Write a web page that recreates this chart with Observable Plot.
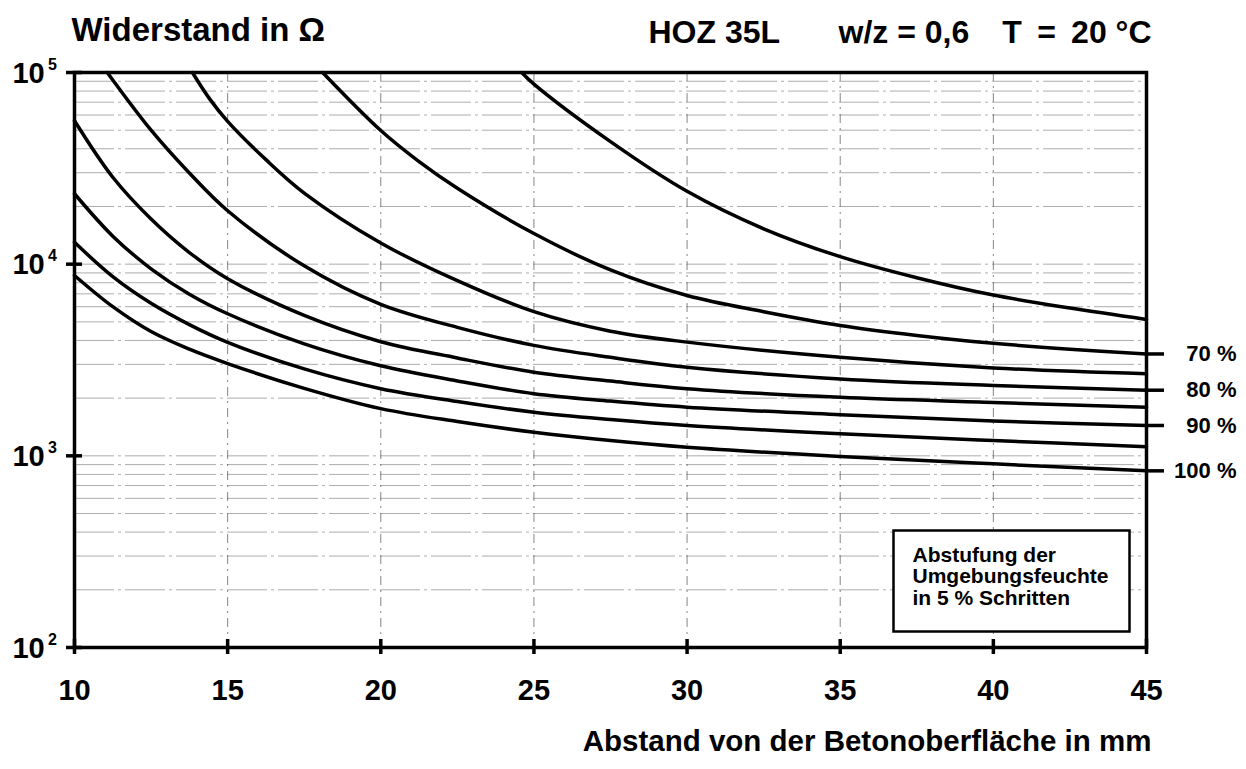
<!DOCTYPE html>
<html><head><meta charset="utf-8">
<script src="https://cdn.jsdelivr.net/npm/d3@7"></script>
<script src="https://cdn.jsdelivr.net/npm/@observablehq/plot@0.6"></script>
<style>body{margin:0;background:#fff} #chart svg{display:block}</style>
</head><body><div id="chart"></div>
<script>
// Axis ticks and grid
const xTicks = [10, 15, 20, 25, 30, 35, 40, 45];
const xGrid = [15, 20, 25, 30, 35, 40];
const yTicks = [100, 1000, 10000, 100000];
const yExponents = ["2", "3", "4", "5"];
const yMinorGrid = [200, 300, 400, 500, 600, 700, 800, 900,
  2000, 3000, 4000, 5000, 6000, 7000, 8000, 9000,
  20000, 30000, 40000, 50000, 60000, 70000, 80000, 90000];

// Curves: ambient humidity in 5 % steps (distance in mm, resistance in Ohm)
const rh65Dist = [24.6, 25, 27.5, 30, 32.5, 35, 37.5, 40, 42.5, 45];
const rh65Res  = [100000, 87000, 43600, 24000, 15300, 10950, 8500, 6900, 5900, 5150];
const rh70Dist = [18.1, 20, 21.25, 22.5, 25, 27.5, 30, 32.5, 35, 37.5, 40, 42.5, 45];
const rh70Res  = [100000, 49800, 34300, 24900, 14450, 9330, 6860, 5650, 4790, 4250, 3870, 3600, 3400];
const rh75Dist = [13.85, 14.4, 15, 16.25, 17.5, 20, 22.5, 25, 27.5, 30, 35, 40, 45];
const rh75Res  = [100000, 73300, 55600, 35100, 23500, 12900, 8200, 5650, 4470, 3920, 3265, 2875, 2680];
const rh80Dist = [11.07, 12.5, 13.75, 15, 17.5, 20, 22.5, 25, 27.5, 30, 35, 40, 45];
const rh80Res  = [100000, 50000, 29900, 19000, 9800, 6170, 4680, 3770, 3265, 2900, 2520, 2330, 2200];
const fullDist = [10, 11.25, 12.5, 13.75, 15, 17.5, 20, 22.5, 25, 27.5, 30, 35, 40, 45];
const rh85Res  = [56000, 28400, 17200, 11500, 8400, 5400, 3940, 3240, 2730, 2455, 2240, 2020, 1900, 1790];
const rh90Res  = [23300, 14000, 9460, 6970, 5510, 3840, 2950, 2460, 2110, 1930, 1795, 1640, 1520, 1440];
const rh95Res  = [13000, 8610, 6250, 4840, 3910, 2840, 2240, 1920, 1690, 1548, 1440, 1303, 1202, 1115];
const rh100Res = [8730, 6000, 4450, 3600, 3030, 2250, 1763, 1510, 1328, 1202, 1109, 993, 908, 835];

const labeledCurves = ["70 %", "80 %", "90 %", "100 %"];

const series = [
  {label: "65 %", dist: rh65Dist, res: rh65Res},
  {label: "70 %", dist: rh70Dist, res: rh70Res},
  {label: "75 %", dist: rh75Dist, res: rh75Res},
  {label: "80 %", dist: rh80Dist, res: rh80Res},
  {label: "85 %", dist: fullDist, res: rh85Res},
  {label: "90 %", dist: fullDist, res: rh90Res},
  {label: "95 %", dist: fullDist, res: rh95Res},
  {label: "100 %", dist: fullDist, res: rh100Res}
];
const rows = series.flatMap(s => s.dist.map((d, i) => ({rh: s.label, dist: d, res: s.res[i]})));
const ends = series.filter(s => labeledCurves.includes(s.label))
  .map(s => ({label: s.label, res: s.res[s.res.length - 1]}));

const FONT = "Liberation Sans, Arial, Helvetica, sans-serif";

const chart = Plot.plot({
  width: 1246,
  height: 769,
  marginLeft: 74,
  marginRight: 100,
  marginTop: 72,
  marginBottom: 122,
  style: {fontFamily: FONT, overflow: "visible", background: "white"},
  x: {domain: [10, 45], axis: null},
  y: {type: "log", domain: [100, 100000], axis: null},
  marks: [
    Plot.ruleY(yMinorGrid, {stroke: "#666", strokeWidth: 0.9, strokeOpacity: 0.6, strokeDasharray: "40,4,3,4"}),
    Plot.ruleY([1000, 10000], {stroke: "#666", strokeWidth: 0.9, strokeOpacity: 0.6, strokeDasharray: "40,4,3,4"}),
    Plot.ruleX(xGrid, {stroke: "#555", strokeWidth: 0.9, strokeOpacity: 0.8, strokeDasharray: "9,5,2,5"}),
    // legend box
    Plot.frame({fill: "white", stroke: "black", strokeWidth: 2.5,
      insetLeft: 819, insetTop: 458, insetRight: 17, insetBottom: 16}),
    Plot.text(["Abstufung der\nUmgebungsfeuchte\nin 5 % Schritten"], {
      frameAnchor: "bottom-right", dx: -234, dy: -101, textAnchor: "start", lineAnchor: "top",
      lineHeight: 1.02, fontSize: 21, fontWeight: "bold", fill: "black"}),
    // curves
    Plot.line(rows, {x: "dist", y: "res", z: "rh", stroke: "black", strokeWidth: 3.5, curve: "catmull-rom"}),
    // frame / axes
    Plot.frame({stroke: "black", strokeWidth: 3.5}),
    Plot.ruleX(xTicks, {stroke: "black", strokeWidth: 3.5, insetTop: 567, insetBottom: -7}),
    Plot.ruleY(yTicks, {stroke: "black", strokeWidth: 3.5, insetLeft: -8, insetRight: 1064}),
    // end leaders and labels
    Plot.ruleY(ends, {y: "res", stroke: "black", strokeWidth: 3.5, insetLeft: 1072, insetRight: -18}),
    Plot.text(ends, {y: "res", text: "label", frameAnchor: "right", dx: 90, textAnchor: "end", lineAnchor: "middle",
      fontSize: 22, fontWeight: "bold", fill: "black"}),
    // tick labels
    Plot.text(xTicks, {x: d => d, y: 100, text: d => String(d), dy: 43, fontSize: 29, fontWeight: "bold", fill: "black"}),
    Plot.text(yTicks, {x: 10, y: d => d, text: () => "10", dx: -46, dy: 1, fontSize: 29, fontWeight: "bold", fill: "black"}),
    Plot.text(yTicks, {x: 10, y: d => d, text: (d, i) => yExponents[i], dx: -22, dy: -8, fontSize: 16, fontWeight: "bold", fill: "black"}),
    // titles
    Plot.text(["Widerstand in \u03A9"], {frameAnchor: "top-left", dx: -3, dy: -42, textAnchor: "start", lineAnchor: "middle",
      fontSize: 33, fontWeight: "bold", fill: "black"}),
    Plot.text(["HOZ 35L"], {frameAnchor: "top-right", dx: -498, dy: -40, textAnchor: "start", lineAnchor: "middle",
      fontSize: 32, fontWeight: "bold", fill: "black"}),
    Plot.text(["w/z = 0,6"], {frameAnchor: "top-right", dx: -308, dy: -40, textAnchor: "start", lineAnchor: "middle",
      fontSize: 32, fontWeight: "bold", fill: "black"}),
    Plot.text(["T\u2009 =\u2009 20 \u00B0C"], {frameAnchor: "top-right", dx: 5, dy: -40, textAnchor: "end", lineAnchor: "middle",
      fontSize: 32, fontWeight: "bold", fill: "black"}),
    Plot.text(["Abstand von der Betonoberfl\u00E4che in mm"], {frameAnchor: "bottom-right", dx: 5, dy: 94,
      textAnchor: "end", lineAnchor: "middle", fontSize: 29.5, fontWeight: "bold", fill: "black"})
  ]
});
document.getElementById("chart").append(chart);
</script>
</body></html>
